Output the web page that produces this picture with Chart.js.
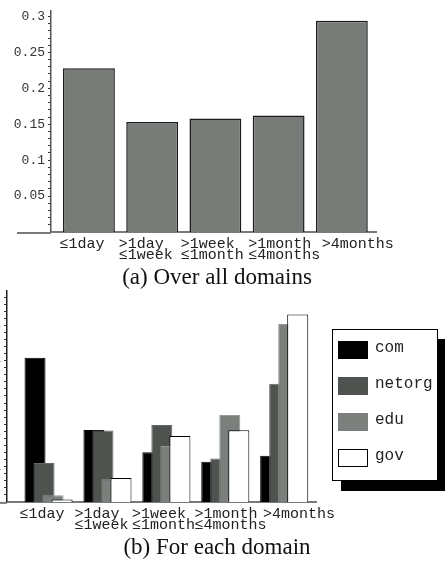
<!DOCTYPE html>
<html>
<head>
<meta charset="utf-8">
<script src="https://cdn.jsdelivr.net/npm/chart.js@4.4.1/dist/chart.umd.min.js"></script>
<style>
  body { margin: 0; background: #fff; }
  #page { position: relative; width: 445px; height: 561px; overflow: hidden; }
  canvas { position: absolute; left: 0; }
  #chartA { top: 0; }
  #chartB { top: 280px; }
  .caption { position: absolute; left: 0; width: 434px; text-align: center;
    font-family: 'Liberation Serif', serif; font-size: 23px; line-height: 23px; color: #111; }
  #legend { position: absolute; left: 332px; top: 329px; width: 104px; height: 150px;
    border: 1px solid #000; background: #fff; box-shadow: 9px 10px 0 #000; }
  #legend .sw { position: absolute; left: 5px; width: 30px; height: 18px; box-sizing: border-box; }
  #legend .txt { position: absolute; left: 42px; font-family: 'Liberation Mono', monospace;
    font-size: 16px; line-height: 18px; color: #222; }
</style>
</head>
<body>
<div id="page">
  <canvas id="chartA" width="445" height="267"></canvas>
  <div class="caption" style="top:265px">(a) Over all domains</div>
  <canvas id="chartB" width="445" height="262"></canvas>
  <div id="legend"></div>
  <div class="caption" style="top:535px">(b) For each domain</div>
</div>
<script>
// data
var categories = [['≤1day'], ['>1day', '≤1week'], ['>1week', '≤1month'], ['>1month', '≤4months'], ['>4months']];
var allDomains = [0.228, 0.153, 0.158, 0.162, 0.294];

var domainNames = ['com', 'netorg', 'edu', 'gov'];
var com    = [0.408, 0.204, 0.141, 0.114, 0.131];
var netorg = [0.110, 0.202, 0.218, 0.123, 0.335];
var edu    = [0.019, 0.064, 0.158, 0.246, 0.504];
var gov    = [0.007, 0.068, 0.187, 0.203, 0.531];

var topTicks = [0.05, 0.1, 0.15, 0.2, 0.25, 0.3];
var topTickLabels = ['0.05', '0.1', '0.15', '0.2', '0.25', '0.3'];
var bottomTicks = [0.1, 0.2, 0.3, 0.4, 0.5];
var bottomTickLabels = ['0.1', '0.2', '0.3', '0.4', '0.5'];

// styling
var domainFill = ['#000000', '#4e534f', '#7b807c', '#ffffff'];
var domainEdge = ['#000000', '#646864', '#959994', '#000000'];
// the labels in the original sit a bit off the bar centres
var labelNudge = [-0.11, -0.1, -0.05, 0.09, 0.25];

Chart.defaults.font.family = "'Liberation Mono', monospace";
Chart.defaults.color = '#222';

function indexTicks(scale) {
  scale.ticks = categories.map(function(c, i) { return { value: i }; });
}
function labelTicks(scale) {
  scale.ticks = categories.map(function(c, i) { return { value: i + labelNudge[i] }; });
}
// pad lines so a two line label reads left aligned
function padLines(lines) {
  var w = Math.max.apply(null, lines.map(function(l) { return l.length; }));
  return lines.map(function(l) { return l.padEnd(w, ' '); });
}

// the x axis line runs on a bit to the left of the y axis
var baselineRun = {
  id: 'baselineRun',
  afterDraw: function(chart, args, opts) {
    var a = chart.chartArea, ctx = chart.ctx;
    ctx.save();
    ctx.strokeStyle = '#7a7a7a';
    ctx.lineWidth = 2;
    ctx.beginPath();
    ctx.moveTo(opts.from, a.bottom + 1);
    ctx.lineTo(a.left, a.bottom + 1);
    ctx.stroke();
    ctx.restore();
  }
};

function hiddenX(min, max) {
  return { type: 'linear', display: false, offset: false, min: min, max: max, afterBuildTicks: indexTicks };
}

function yAxis(width, max, minor, majors, labels, edge) {
  return {
    position: 'left',
    min: 0,
    max: max,
    afterFit: function(scale) { scale.width = width; },
    afterBuildTicks: function(scale) {
      var t = [];
      for (var k = 1; k * minor <= max + 1e-9; k++) t.push({ value: +(k * minor).toFixed(4) });
      scale.ticks = t;
    },
    grid: { drawOnChartArea: false, tickLength: 3, tickColor: '#333' },
    border: { color: edge, width: 1.5 },
    ticks: {
      autoSkip: false,
      padding: 3,
      color: '#333',
      font: { size: 13 },
      callback: function(v) {
        var j = majors.indexOf(+v.toFixed(4));
        return j >= 0 ? labels[j] : '';
      }
    }
  };
}

function labelAxis(min, max) {
  return {
    type: 'linear',
    position: 'bottom',
    offset: false,
    min: min,
    max: max,
    afterBuildTicks: labelTicks,
    grid: { display: false, drawTicks: false },
    border: { color: '#7a7a7a', width: 2 },
    ticks: {
      autoSkip: false,
      maxRotation: 0,
      minRotation: 0,
      padding: 6,
      font: { size: 15, lineHeight: 0.77 },
      callback: function(v, i) { return padLines(categories[i]); }
    }
  };
}

// (a) over all domains
var minA = -0.6, maxA = 4.54;
new Chart(document.getElementById('chartA'), {
  type: 'bar',
  data: {
    datasets: [{
      data: allDomains.map(function(v, i) { return { x: i, y: v }; }),
      xAxisID: 'xb',
      backgroundColor: '#787c78',
      borderColor: '#1c1c1c',
      borderWidth: 1.5,
      categoryPercentage: 1,
      barPercentage: 0.82
    }]
  },
  options: {
    responsive: false,
    animation: false,
    layout: { padding: { left: 0, right: 69, top: 9, bottom: 0 } },
    plugins: { legend: { display: false }, tooltip: { enabled: false }, baselineRun: { from: 17 } },
    scales: {
      xb: hiddenX(minA, maxA),
      x: labelAxis(minA, maxA),
      y: yAxis(51, 0.308, 0.01, topTicks, topTickLabels, '#555')
    }
  },
  plugins: [baselineRun]
});

// (b) for each domain, bars of one group overlap, each series on its own shifted axis
var minB = -0.705, maxB = 4.54, shiftB = 0.153;
var series = [com, netorg, edu, gov];
var scalesB = {
  x: labelAxis(minB, maxB),
  y: yAxis(7, 0.598, 0.02, bottomTicks, bottomTickLabels, '#222')
};
series.forEach(function(s, k) {
  scalesB['x' + k] = hiddenX(minB - (k - 1.5) * shiftB, maxB - (k - 1.5) * shiftB);
});

new Chart(document.getElementById('chartB'), {
  type: 'bar',
  data: {
    datasets: series.map(function(s, k) {
      return {
        label: domainNames[k],
        data: s.map(function(v, i) { return { x: i, y: v }; }),
        xAxisID: 'x' + k,
        grouped: false,
        order: series.length - k,
        backgroundColor: domainFill[k],
        borderColor: domainEdge[k],
        borderWidth: 1,
        categoryPercentage: 1,
        barPercentage: 0.357
      };
    })
  },
  options: {
    responsive: false,
    animation: false,
    layout: { padding: { left: 0, right: 129, top: 8, bottom: 5 } },
    plugins: { legend: { display: false }, tooltip: { enabled: false }, baselineRun: { from: 0 } },
    scales: scalesB
  },
  plugins: [baselineRun]
});

// legend box
var legend = document.getElementById('legend');
domainNames.forEach(function(name, k) {
  var sw = document.createElement('div');
  sw.className = 'sw';
  sw.style.top = (11 + 36 * k) + 'px';
  sw.style.background = domainFill[k];
  if (domainFill[k] === '#ffffff') sw.style.border = '1px solid #000';
  legend.appendChild(sw);
  var t = document.createElement('div');
  t.className = 'txt';
  t.style.top = (9 + 36 * k) + 'px';
  t.textContent = name;
  legend.appendChild(t);
});
</script>
</body>
</html>
